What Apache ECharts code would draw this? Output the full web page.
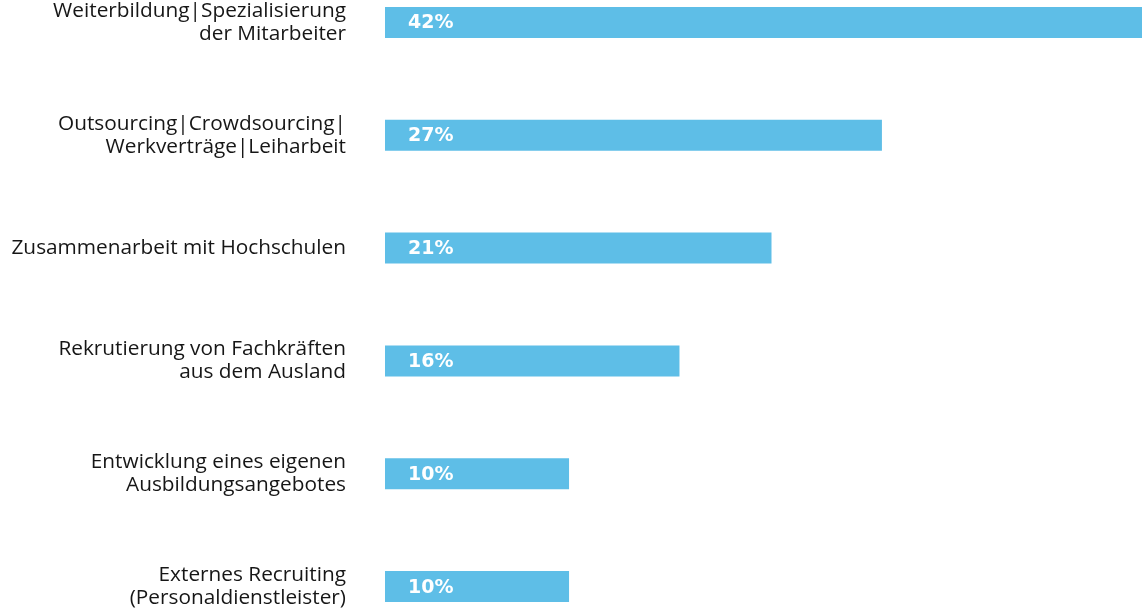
<!DOCTYPE html>
<html>
<head>
<meta charset="utf-8">
<style>
  html, body { margin: 0; padding: 0; background: #ffffff; }
  #chart { width: 1142px; height: 609px; }
</style>
<script src="https://cdn.jsdelivr.net/npm/echarts@6/dist/echarts.min.js"></script>
</head>
<body>
<div id="chart"></div>
<script>
// Maßnahmen gegen Fachkräftemangel (Anteil in %)
const categories = [
  'Weiterbildung|Spezialisierung\nder Mitarbeiter',
  'Outsourcing|Crowdsourcing|\nWerkverträge|Leiharbeit',
  'Zusammenarbeit mit Hochschulen',
  'Rekrutierung von Fachkräften\naus dem Ausland',
  'Entwicklung eines eigenen\nAusbildungsangebotes',
  'Externes Recruiting\n(Personaldienstleister)'
];
const values = [42, 27, 21, 16, 10, 10];

const chart = echarts.init(document.getElementById('chart'), null, { renderer: 'canvas' });

chart.setOption({
  animation: false,
  backgroundColor: '#ffffff',
  grid: {
    left: 385,
    top: -34,
    width: 773,
    height: 677,
    outerBoundsMode: 'none',
    containLabel: false
  },
  xAxis: {
    type: 'value',
    min: 0,
    max: 42,
    show: false
  },
  yAxis: {
    type: 'category',
    inverse: true,
    data: categories,
    axisLine: { show: false },
    axisTick: { show: false },
    splitLine: { show: false },
    axisLabel: {
      margin: 39,
      color: '#161616',
      fontFamily: 'Open Sans',
      fontSize: 20.8,
      lineHeight: 23,
      align: 'right'
    }
  },
  series: [{
    type: 'bar',
    data: values,
    barWidth: 31,
    itemStyle: { color: '#5ebee7' },
    label: {
      show: true,
      position: 'insideLeft',
      offset: [18, 1],
      formatter: '{c}%',
      color: '#ffffff',
      fontFamily: 'DejaVu Sans',
      fontWeight: 'bold',
      fontSize: 19
    }
  }]
});
</script>
</body>
</html>
